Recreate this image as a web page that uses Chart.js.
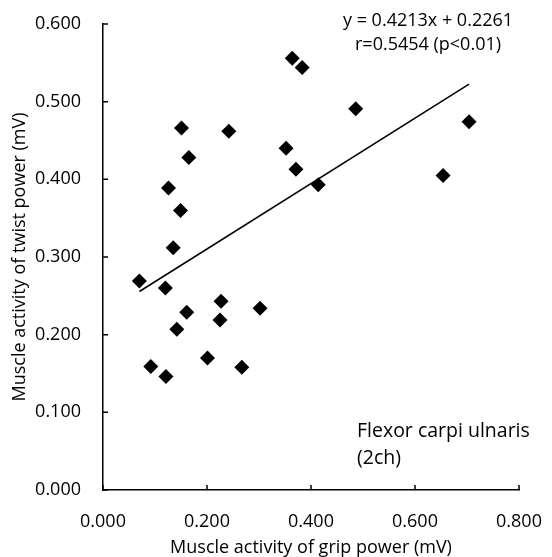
<!DOCTYPE html>
<html>
<head>
<meta charset="utf-8">
<script src="https://cdn.jsdelivr.net/npm/chart.js@4/dist/chart.umd.min.js"></script>
<style>
  html, body { margin: 0; padding: 0; background: #fff; }
  #wrap { width: 552px; height: 557px; }
</style>
</head>
<body>
<div id="wrap"><canvas id="c" width="552" height="557"></canvas></div>
<script>
// grip power (x) vs twist power (y), mV
const gripPower = [0.364, 0.383, 0.151, 0.242, 0.352, 0.165, 0.371, 0.126, 0.149, 0.135, 0.070, 0.486, 0.704,
  0.654, 0.414, 0.120, 0.227, 0.161, 0.302, 0.225, 0.142, 0.201, 0.092, 0.267, 0.121];
const twistPower = [0.556, 0.544, 0.466, 0.462, 0.440, 0.428, 0.413, 0.389, 0.360, 0.312, 0.269, 0.491, 0.474,
  0.405, 0.393, 0.260, 0.243, 0.229, 0.234, 0.219, 0.207, 0.170, 0.159, 0.158, 0.146];

const SLOPE = 0.4213;
const INTERCEPT = 0.2261;
const eqLines = ['y = 0.4213x + 0.2261', 'r=0.5454 (p<0.01)'];
const muscleLabel = ['Flexor carpi ulnaris', '(2ch)'];
const xTitle = 'Muscle activity of grip power (mV)';
const yTitle = 'Muscle activity of twist power (mV)';

const FONT = '"Open Sans", sans-serif';

const points = gripPower.map((x, i) => ({ x: x, y: twistPower[i] }));
const xMin = Math.min(...gripPower);
const xMax = Math.max(...gripPower);
const trend = [xMin, xMax].map(x => ({ x: x, y: SLOPE * x + INTERCEPT }));

// inward tick marks + text annotations
const extras = {
  id: 'extras',
  afterDraw(chart) {
    const ctx = chart.ctx;
    const xs = chart.scales.x, ys = chart.scales.y;
    const area = chart.chartArea;
    ctx.save();
    ctx.strokeStyle = '#000';
    ctx.lineWidth = 1.5;
    ctx.beginPath();
    xs.ticks.forEach(t => {
      const px = xs.getPixelForValue(t.value);
      ctx.moveTo(px, area.bottom);
      ctx.lineTo(px, area.bottom - 5);
    });
    ys.ticks.forEach(t => {
      const py = ys.getPixelForValue(t.value);
      ctx.moveTo(area.left, py);
      ctx.lineTo(area.left + 5, py);
    });
    ctx.stroke();

    ctx.fillStyle = '#000';
    ctx.textBaseline = 'middle';
    ctx.font = '18px ' + FONT;
    ctx.textAlign = 'center';
    ctx.fillText(eqLines[0], 428, 21);
    ctx.fillText(eqLines[1], 428, 45);

    ctx.font = '19.5px ' + FONT;
    ctx.textAlign = 'left';
    ctx.fillText(muscleLabel[0], 357, 431);
    ctx.fillText(muscleLabel[1], 357, 458);
    ctx.restore();
  }
};

new Chart(document.getElementById('c'), {
  type: 'scatter',
  data: {
    datasets: [
      {
        label: 'data',
        data: points,
        pointStyle: 'rectRot',
        pointRadius: 7.5,
        pointHoverRadius: 7.5,
        backgroundColor: '#000',
        borderColor: '#000',
        borderWidth: 0
      },
      {
        type: 'line',
        label: 'fit',
        data: trend,
        borderColor: '#000',
        borderWidth: 1.5,
        pointRadius: 0,
        fill: false
      }
    ]
  },
  options: {
    responsive: false,
    animation: false,
    layout: { padding: { top: 24, right: 33, left: 0, bottom: 0 } },
    plugins: { legend: { display: false }, tooltip: { enabled: false } },
    scales: {
      x: {
        type: 'linear',
        min: 0, max: 0.8,
        grid: { display: false },
        border: { display: true, color: '#000', width: 1.5 },
        ticks: {
          stepSize: 0.2,
          padding: 13,
          color: '#000',
          font: { family: FONT, size: 18 },
          callback: v => v.toFixed(3)
        },
        title: {
          display: true,
          text: xTitle,
          color: '#000',
          font: { family: FONT, size: 18 },
          padding: { top: 0, bottom: -2 }
        },
        afterFit: s => {
          s.height = 67;
          s.paddingLeft = 0;
          s.paddingRight = 0;
        }
      },
      y: {
        type: 'linear',
        min: 0, max: 0.6,
        grid: { display: false },
        border: { display: true, color: '#000', width: 1.5 },
        ticks: {
          stepSize: 0.1,
          padding: 14,
          color: '#000',
          font: { family: FONT, size: 18 },
          callback: v => v.toFixed(3)
        },
        title: {
          display: true,
          text: yTitle,
          color: '#000',
          font: { family: FONT, size: 18 },
          padding: { top: 9, bottom: 0 }
        },
        afterFit: s => {
          s.width = 103;
          s.paddingTop = 0;
          s.paddingBottom = 0;
        }
      }
    }
  },
  plugins: [extras]
});
</script>
</body>
</html>
